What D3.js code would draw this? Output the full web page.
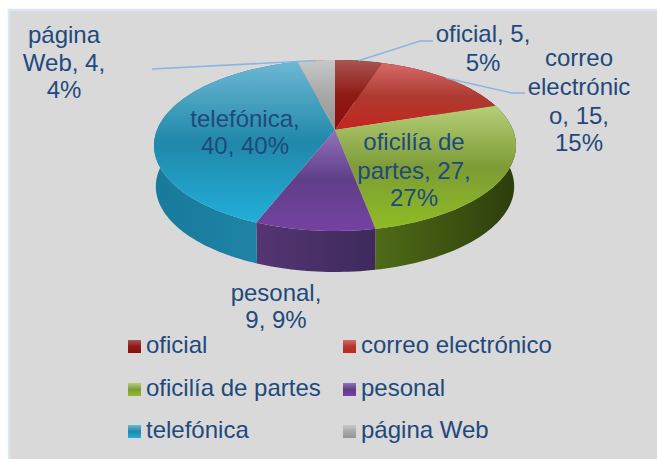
<!DOCTYPE html>
<html><head><meta charset="utf-8">
<script src="https://cdn.jsdelivr.net/npm/d3@7/dist/d3.min.js"></script>
<style>html,body{margin:0;padding:0;background:#fff;overflow:hidden}svg{display:block}text{font-family:"Liberation Sans",Arial,sans-serif;fill:#1f497d}</style>
</head><body><svg id="c" width="657" height="459"></svg>
<script>
const categories=["oficial","correo electrónico","oficilía de partes","pesonal","telefónica","página Web"];
const values=[5,15,27,9,40,4];
const topColors=[["#a85652","#8f1a14","#8a0f0c"],["#d66a68","#ad3a32","#c4261c"],["#b5cf78","#7d9c36","#8fbc22"],["#9272b8","#5f3e88","#7442a2"],["#6cb8d4","#2088aa","#22afd9"],["#c8c8c8","#a8a8a8","#969696"]];
const sideColors=[["#5a1010","#5a1010"],["#701a14","#701a14"],["#4f6b17","#2c3e0c"],["#553572","#3d2a5c"],["#187a9c","#2187aa"],["#707070","#707070"]];
const svg=d3.select("#c");
svg.append("rect").attr("x",9).attr("y",10).attr("width",670).attr("height",470).attr("fill","#d9d9d9").attr("stroke","#dce6f2").attr("stroke-width",2.5);
const defs=svg.append("defs");
const cx=335,cy=130,a=178,b=82.7,k=0.181,depth=41,shrink=0.99;
function project(ang,h){const u=Math.sin(ang),v=-Math.cos(ang),d=1-k*v,s=h?shrink:1;return [cx+s*a*u/d,cy+b*v/d+(h?depth:0)];}
function sample(a0,a1,h){const n=Math.max(2,Math.ceil((a1-a0)*40));return d3.range(n+1).map(i=>project(a0+(a1-a0)*i/n,h));}
const line=d3.line();
const arcs=d3.pie().sort(null)(values);
arcs.forEach((d,i)=>{
 const g=defs.append("linearGradient").attr("id","t"+i).attr("x1",0).attr("y1",0).attr("x2",0).attr("y2",1);
 topColors[i].forEach((c,j)=>g.append("stop").attr("offset",j/2).attr("stop-color",c));
 const s=defs.append("linearGradient").attr("id","s"+i).attr("x1",0).attr("y1",0).attr("x2",1).attr("y2",0);
 sideColors[i].forEach((c,j)=>s.append("stop").attr("offset",j).attr("stop-color",c));
});
svg.append("g").selectAll("path").data(arcs).join("path")
 .attr("d",d=>line(sample(d.startAngle,d.endAngle,false).concat(sample(d.startAngle,d.endAngle,true).reverse()))+"Z")
 .attr("fill",(d,i)=>`url(#s${i})`);
svg.append("g").selectAll("path").data(arcs).join("path")
 .attr("d",d=>line([[cx,cy]].concat(sample(d.startAngle,d.endAngle,false)))+"Z")
 .attr("fill",(d,i)=>`url(#t${i})`);
const mid=d=>(d.startAngle+d.endAngle)/2;
const leaderEnds=[[[420,41],[433,41]],[[512,93],[525,93]],null,null,null,[[152,69]]];
arcs.forEach((d,i)=>{ if(!leaderEnds[i])return;
 svg.append("path").attr("d",line([project(mid(d),false)].concat(leaderEnds[i]))).attr("fill","none").attr("stroke","#8db4e2").attr("stroke-width",1.6);
});
const labels=[
 {lines:["oficial, 5,","5%"],x:483,y:[42,71]},
 {lines:["correo","electrónic","o, 15,","15%"],x:579,y:[66,95,124,151]},
 {lines:["oficilía de","partes, 27,","27%"],x:414,y:[150,179,206]},
 {lines:["pesonal,","9, 9%"],x:276,y:[301,328]},
 {lines:["telefónica,","40, 40%"],x:245,y:[127,154]},
 {lines:["página","Web, 4,","4%"],x:64,y:[43,71,98]}];
const fs=24;
labels.forEach(l=>l.lines.forEach((t,j)=>svg.append("text").attr("x",l.x).attr("y",l.y[j]).attr("text-anchor","middle").attr("font-size",fs).text(t)));
const col=d3.scalePoint().domain([0,1]).range([128,343]);
const row=d3.scaleLinear().domain([0,1,2]).range([353,396,438]);
categories.forEach((c,i)=>{
 const c_=i%2,r=Math.floor(i/2),x=col(c_),y=row(r);
 const g=defs.append("linearGradient").attr("id","l"+i).attr("x1",0).attr("y1",0).attr("x2",0).attr("y2",1);
 topColors[i].forEach((cc,j)=>g.append("stop").attr("offset",j/2).attr("stop-color",cc));
 svg.append("rect").attr("x",x).attr("y",y-13).attr("width",13).attr("height",13).attr("fill",`url(#l${i})`);
 svg.append("text").attr("x",x+18).attr("y",y).attr("font-size",fs).text(c);
});
</script></body></html>
